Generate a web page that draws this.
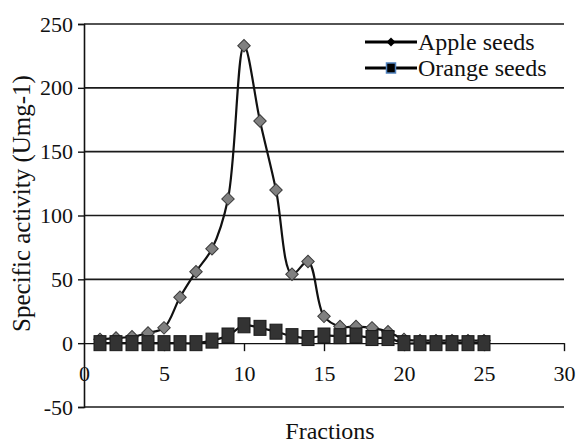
<!DOCTYPE html>
<html>
<head>
<meta charset="utf-8">
<script src="https://cdn.jsdelivr.net/npm/d3@7"></script>
<style>
  body { margin: 0; background: #fff; }
</style>
</head>
<body>
<div id="svg-container"></div>
<script>
////////////////////////////////////////////////////////////////////
////////////////////////////  Data  ////////////////////////////////
const fractions = d3.range(1, 26);
const appleSeeds = [3, 4, 5, 8, 12, 36, 56, 74, 113, 233, 174, 120, 54, 64, 21, 13, 13, 12, 9, 3, 2, 2, 2, 2, 2];
const orangeSeeds = [0, 0, 0, 0, 0, 0, 0, 2, 6, 14, 12, 9, 5.5, 4, 6, 5.5, 6, 4, 4, 0, 0, 0, 0, 0, 0];
const seriesNames = ["Apple seeds", "Orange seeds"];
const xTicks = [0, 5, 10, 15, 20, 25, 30];
const yTicks = [-50, 0, 50, 100, 150, 200, 250];

////////////////////////////////////////////////////////////////////
////////////////////////////  Init  ////////////////////////////////
const width = 579;
const height = 443;
const margin = { top: 24, right: 15, bottom: 36, left: 84 };
const serif = "Liberation Serif";

const svg = d3
  .select("#svg-container")
  .append("svg")
  .attr("width", width)
  .attr("height", height)
  .attr("font-family", serif);

const xScale = d3
  .scaleLinear()
  .domain([0, 30])
  .range([margin.left, width - margin.right]);

const yScale = d3
  .scaleLinear()
  .domain([-50, 250])
  .range([height - margin.bottom, margin.top]);

// gridlines
svg
  .append("g")
  .selectAll("line")
  .data(yTicks.filter((d) => d !== 0))
  .enter()
  .append("line")
  .attr("x1", xScale(0))
  .attr("x2", xScale(30))
  .attr("y1", (d) => yScale(d))
  .attr("y2", (d) => yScale(d))
  .attr("stroke", "#1a1a1a")
  .attr("stroke-width", 1.6);

// y axis
const yAxis = d3
  .axisLeft(yScale)
  .tickValues(yTicks)
  .tickFormat((d) => String(d))
  .tickSize(6)
  .tickPadding(5);
svg
  .append("g")
  .attr("class", "y-axis")
  .attr("transform", `translate(${xScale(0)},0)`)
  .call(yAxis)
  .call((g) => g.attr("font-family", serif).attr("font-size", 22))
  .call((g) => g.select(".domain").attr("stroke", "#111").attr("stroke-width", 1.6))
  .call((g) => g.selectAll(".tick line").attr("stroke", "#111").attr("stroke-width", 1.4))
  .call((g) => g.selectAll(".tick text").attr("fill", "#111"));

// x axis on the zero line
const xAxis = d3
  .axisBottom(xScale)
  .tickValues(xTicks)
  .tickFormat((d) => String(d))
  .tickSize(8)
  .tickPadding(14)
  .tickSizeOuter(0);
svg
  .append("g")
  .attr("class", "x-axis")
  .attr("transform", `translate(0,${yScale(0)})`)
  .call(xAxis)
  .call((g) => g.attr("font-family", serif).attr("font-size", 22))
  .call((g) => g.select(".domain").attr("stroke", "#111").attr("stroke-width", 1.2))
  .call((g) => g.selectAll(".tick line").attr("stroke", "#111").attr("stroke-width", 1.4))
  .call((g) => g.selectAll(".tick").filter((d) => d === 0).select("line").remove())
  .call((g) => g.selectAll(".tick text").attr("fill", "#111"));

// axis titles
svg
  .append("text")
  .attr("x", 330)
  .attr("y", 439)
  .attr("text-anchor", "middle")
  .attr("font-family", serif)
  .attr("font-size", 24)
  .attr("fill", "#111")
  .text("Fractions");

svg
  .append("text")
  .attr("transform", `translate(30,${(margin.top + height - margin.bottom) / 2 - 12}) rotate(-90)`)
  .attr("text-anchor", "middle")
  .attr("font-family", serif)
  .attr("font-size", 25)
  .attr("fill", "#111")
  .text("Specific activity (Umg-1)");

////////////////////////////////////////////////////////////////////
////////////////////////////  Series  //////////////////////////////
const line = d3
  .line()
  .x((d) => xScale(d[0]))
  .y((d) => yScale(d[1]))
  .curve(d3.curveCatmullRom.alpha(0.5));

const appleData = fractions.map((f, i) => [f, appleSeeds[i]]);
const orangeData = fractions.map((f, i) => [f, orangeSeeds[i]]);

// apple seeds
svg
  .append("path")
  .datum(appleData)
  .attr("d", line)
  .attr("fill", "none")
  .attr("stroke", "#111")
  .attr("stroke-width", 2.2);

const diamond = d3.symbol().type(d3.symbolSquare).size(78);
svg
  .append("g")
  .selectAll("path")
  .data(appleData)
  .enter()
  .append("path")
  .attr("d", diamond)
  .attr("transform", (d) => `translate(${xScale(d[0])},${yScale(d[1])}) rotate(45)`)
  .attr("fill", "#808080")
  .attr("stroke", "#3a3a3a")
  .attr("stroke-width", 1);

// orange seeds
svg
  .append("path")
  .datum(orangeData)
  .attr("d", line)
  .attr("fill", "none")
  .attr("stroke", "#111")
  .attr("stroke-width", 2.2);

svg
  .append("g")
  .selectAll("rect")
  .data(orangeData)
  .enter()
  .append("rect")
  .attr("x", (d) => xScale(d[0]) - 6)
  .attr("y", (d) => yScale(d[1]) - 7.5)
  .attr("width", 12)
  .attr("height", 15)
  .attr("fill", "#333")
  .attr("stroke", "#1a1a1a")
  .attr("stroke-width", 1);

////////////////////////////////////////////////////////////////////
////////////////////////////  Legend  //////////////////////////////
const legend = svg.append("g").attr("transform", "translate(365,42)");
const rowGap = 26;

legend
  .selectAll(".legend-line")
  .data(seriesNames)
  .enter()
  .append("line")
  .attr("x1", 0)
  .attr("x2", 52)
  .attr("y1", (d, i) => i * rowGap)
  .attr("y2", (d, i) => i * rowGap)
  .attr("stroke", "#000")
  .attr("stroke-width", 3);

legend
  .append("path")
  .attr("d", d3.symbol().type(d3.symbolSquare).size(40))
  .attr("transform", "translate(26,0) rotate(45)")
  .attr("fill", "#000");

legend
  .append("rect")
  .attr("x", 21.5)
  .attr("y", rowGap - 5)
  .attr("width", 9)
  .attr("height", 10)
  .attr("fill", "#000")
  .attr("stroke", "#4f81bd")
  .attr("stroke-width", 1.5);

legend
  .selectAll(".legend-label")
  .data(seriesNames)
  .enter()
  .append("text")
  .attr("x", 53)
  .attr("y", (d, i) => i * rowGap + 8)
  .attr("font-family", serif)
  .attr("font-size", 24)
  .attr("fill", "#111")
  .text((d) => d);
</script>
</body>
</html>
